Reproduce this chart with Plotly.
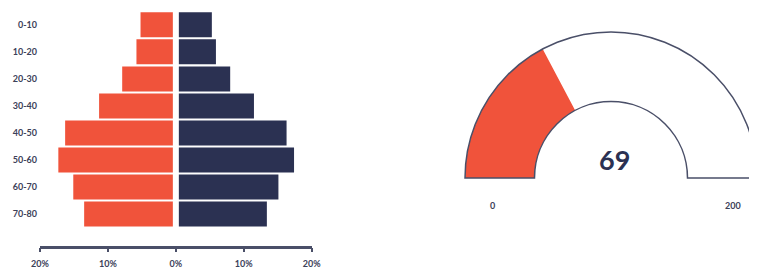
import plotly.graph_objects as go

# ---- data ----
age_groups = ["0-10", "10-20", "20-30", "30-40", "40-50", "50-60", "60-70", "70-80"]
left_values = [5.2, 5.8, 7.9, 11.3, 16.3, 17.3, 15.1, 13.5]
right_values = [5.3, 5.9, 8.0, 11.5, 16.3, 17.4, 15.1, 13.4]
x_tick_vals = [-20, -10, 0, 10, 20]
x_tick_text = ["20%", "10%", "0%", "10%", "20%"]

gauge_value = 69
gauge_min = 0
gauge_max = 200

# ---- style ----
RED = "#F0533B"
NAVY = "#2B3152"
AXIS = "#4A4F68"
LABEL = "#3C4159"
FONT = "Lato"

# page body has an 8px default margin: figure is shrunk and positions shifted by it
OFF = 8
W, H = 757 - OFF, 268 - OFF


def px(x):
    return (x - OFF) / W


def py(y):
    return (H - (y - OFF)) / H


fig = go.Figure()

fig.add_trace(go.Bar(
    y=age_groups, x=[-v for v in left_values], orientation="h",
    marker=dict(color=RED, line=dict(width=0)), hoverinfo="skip", showlegend=False,
))
fig.add_trace(go.Bar(
    y=age_groups, x=right_values, orientation="h",
    marker=dict(color=NAVY, line=dict(width=0)), hoverinfo="skip", showlegend=False,
))

# ---- gauge (polar) ----
span = 180.0
frac = (gauge_value - gauge_min) / (gauge_max - gauge_min)
fig.add_trace(go.Barpolar(
    r=[1], theta=[span * frac / 2], width=[span * frac], base=0,
    marker=dict(color=RED, line=dict(width=0)), hoverinfo="skip", showlegend=False,
))

fig.update_layout(
    width=W, height=H,
    margin=dict(l=0, r=0, t=0, b=0),
    paper_bgcolor="white", plot_bgcolor="white",
    barmode="relative", bargap=0.075,
    font=dict(family=FONT, color=LABEL),
    xaxis=dict(
        domain=[px(40), px(311.7)], range=[-20, 20],
        tickvals=x_tick_vals, ticktext=x_tick_text,
        showgrid=False, zeroline=False,
        showline=True, linecolor=AXIS, linewidth=2.5,
        ticks="outside", ticklen=4, tickwidth=2, tickcolor=AXIS,
        tickfont=dict(family=FONT, size=9, color=LABEL, weight="bold"),
        ticklabelstandoff=4, automargin=False, fixedrange=True,
    ),
    yaxis=dict(
        domain=[py(245.7), py(11.3)],
        type="category", categoryorder="array", categoryarray=age_groups,
        range=[8.17, -0.5],
        showgrid=False, zeroline=False, showline=False, ticks="",
        tickfont=dict(family=FONT, size=9, color=LABEL, weight="bold"),
        ticklabelstandoff=2, automargin=False, fixedrange=True,
    ),
    polar=dict(
        domain=dict(x=[px(465), 1.0], y=[py(179), py(31)]),
        sector=[0, 180], hole=76.5 / 146,
        bgcolor="white",
        radialaxis=dict(visible=False, range=[0, 1]),
        angularaxis=dict(
            rotation=180, direction="clockwise",
            showticklabels=False, ticks="", showgrid=False,
            showline=True, linecolor=AXIS, linewidth=1.5,
        ),
    ),
    shapes=[dict(
        type="line", xref="x", yref="y", x0=0, x1=0, y0=-0.6, y1=7.6,
        line=dict(color="white", width=6), layer="above",
    )],
    annotations=[
        dict(text=f"<b>{gauge_value}</b>", x=px(614), y=py(160), xref="paper", yref="paper",
             xanchor="center", yanchor="middle",
             showarrow=False, font=dict(family=FONT, size=27, color=NAVY)),
        dict(text=f"<b>{gauge_min}</b>", x=px(492.7), y=py(205), xref="paper", yref="paper",
             xanchor="center", yanchor="middle",
             showarrow=False, font=dict(family=FONT, size=9, color=LABEL)),
        dict(text=f"<b>{gauge_max}</b>", x=px(732.7), y=py(205), xref="paper", yref="paper",
             xanchor="center", yanchor="middle",
             showarrow=False, font=dict(family=FONT, size=9, color=LABEL)),
    ],
)

fig.write_html("out.html", config=dict(displayModeBar=False))
